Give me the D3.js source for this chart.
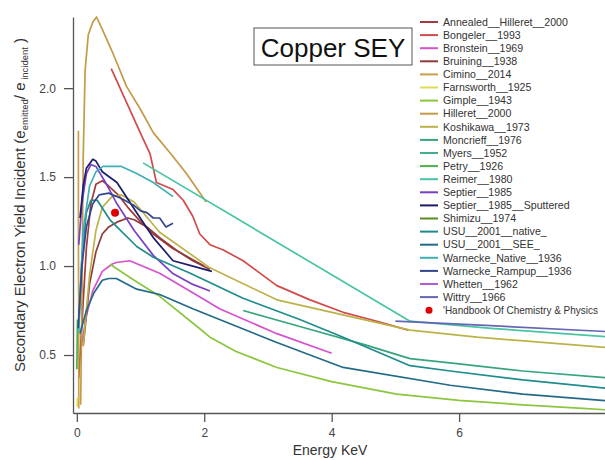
<!DOCTYPE html>
<html>
<head>
<meta charset="utf-8">
<script src="https://cdn.jsdelivr.net/npm/d3@7"></script>
<style>
  body { margin: 0; background: #fff; }
  svg { font-family: "Liberation Sans", Arial, sans-serif; }
  .axis path, .axis line { stroke: #555; stroke-width: 1.3; }
  .axis text { fill: #444; font-size: 12px; }
</style>
</head>
<body>
<div id="chart"></div>
<script>
// energy (keV), yield
const annealedHilleret = [[0.03,0.37],[0.06,0.55],[0.1,0.8],[0.15,1.1],[0.22,1.35],[0.3,1.46],[0.4,1.48],[0.5,1.45],[0.65,1.4],[0.8,1.33],[1.0,1.25],[1.2,1.18],[1.5,1.1],[1.8,1.04],[2.0,1.0]]
const bongeler = [[0.54,2.11],[0.78,1.92],[1.02,1.73],[1.15,1.63],[1.25,1.47],[1.51,1.43],[1.67,1.37],[1.82,1.28],[1.93,1.18],[2.09,1.12],[2.3,1.09],[2.61,1.03],[3.14,0.89],[3.66,0.81],[4.18,0.74],[4.71,0.69],[5.2,0.64]]
const bronstein = [[0.08,0.57],[0.15,0.72],[0.25,0.86],[0.4,0.97],[0.55,1.01],[0.62,1.02],[0.83,1.03],[1.3,0.96],[1.82,0.85],[2.24,0.76],[3.14,0.62],[4.0,0.51]]
const bruining = [[0.1,0.55],[0.2,0.9],[0.3,1.08],[0.4,1.18],[0.5,1.22],[0.65,1.25],[0.8,1.27],[0.9,1.26],[1.1,1.22],[1.3,1.16],[1.6,1.08],[1.82,1.03],[2.09,0.98]]
const cimino = [[0.025,1.76],[0.025,1.2],[0.03,0.6],[0.03,0.2]]
const farnsworth = [[0.005,0.21],[0.01,0.26]]
const gimple = [[0.52,1.01],[0.9,0.92],[1.3,0.83],[1.82,0.68],[2.09,0.6],[2.5,0.52],[3.14,0.43],[4.0,0.35],[5.02,0.28],[6.0,0.245],[7.0,0.22],[7.94,0.2],[8.4,0.19]]
const hilleret = [[0.06,0.22],[0.08,0.8],[0.1,1.6],[0.13,2.1],[0.18,2.3],[0.25,2.37],[0.31,2.4],[0.4,2.33],[0.55,2.21],[0.78,2.01],[1.0,1.88],[1.2,1.75],[1.5,1.62],[1.72,1.52],[2.03,1.36]]
const koshikawa = [[0.1,0.55],[0.2,0.95],[0.3,1.2],[0.4,1.33],[0.55,1.39],[0.7,1.4],[0.9,1.36],[1.3,1.19],[2.09,0.99],[3.14,0.81],[5.23,0.64],[6.28,0.6],[8.4,0.54]]
const moncrieff = [[2.61,0.75],[3.5,0.66],[4.5,0.56],[5.23,0.48],[6.0,0.45],[7.0,0.41],[8.4,0.37]]
const myers = []
const petry = [[0.0,0.42],[0.005,0.55],[0.01,0.7]]
const reimer = [[1.04,1.58],[5.23,0.69],[6.5,0.65],[8.4,0.6]]
const septier = [[0.03,1.12],[0.08,1.35],[0.15,1.52],[0.22,1.57],[0.3,1.56],[0.45,1.47],[0.63,1.35],[0.9,1.2],[1.2,1.06],[1.5,0.96],[1.8,0.9],[2.09,0.86]]
const septierSputtered = [[0.05,1.27],[0.1,1.45],[0.15,1.55],[0.25,1.6],[0.3,1.59],[0.4,1.53],[0.63,1.47],[0.94,1.3],[1.2,1.16],[1.51,1.03],[1.82,1.0],[2.12,0.97]]
const shimizu = []
const usuNative = [[0.03,0.65],[0.08,1.05],[0.15,1.3],[0.22,1.37],[0.32,1.37],[0.52,1.26],[0.94,1.11],[1.2,1.05],[1.78,0.96],[2.6,0.82],[3.5,0.7],[4.18,0.6],[5.23,0.44],[5.86,0.41],[7.0,0.36],[8.4,0.31]]
const usuSEE = [[0.05,0.62],[0.15,0.75],[0.27,0.85],[0.4,0.92],[0.5,0.93],[0.62,0.93],[0.94,0.87],[1.3,0.84],[1.82,0.76],[2.24,0.7],[3.14,0.57],[4.18,0.43],[5.86,0.33],[7.0,0.28],[8.4,0.24]]
const warneckeNative = [[0.03,0.63],[0.06,0.9],[0.1,1.2],[0.2,1.45],[0.3,1.53],[0.41,1.56],[0.7,1.56],[0.94,1.52],[1.2,1.47],[1.51,1.39]]
const warneckeRampup = [[0.02,0.65],[0.08,1.0],[0.15,1.22],[0.25,1.35],[0.35,1.4],[0.5,1.41],[0.7,1.38],[0.9,1.34],[1.0,1.31],[1.1,1.3],[1.2,1.27],[1.3,1.27],[1.4,1.22],[1.51,1.24]]
const whetten = []
const wittry = [[5.0,0.69],[6.5,0.665],[8.4,0.63]]
const handbook = [[0.6,1.3]]

const seriesNames = ['Annealed__Hilleret__2000','Bongeler__1993','Bronstein__1969','Bruining__1938','Cimino__2014','Farnsworth__1925','Gimple__1943','Hilleret__2000','Koshikawa__1973','Moncrieff__1976','Myers__1952','Petry__1926','Reimer__1980','Septier__1985','Septier__1985__Sputtered','Shimizu__1974','USU__2001__native_','USU__2001__SEE_','Warnecke_Native__1936','Warnecke_Rampup__1936','Whetten__1962','Wittry__1966']
const seriesData = [annealedHilleret, bongeler, bronstein, bruining, cimino, farnsworth, gimple, hilleret, koshikawa, moncrieff, myers, petry, reimer, septier, septierSputtered, shimizu, usuNative, usuSEE, warneckeNative, warneckeRampup, whetten, wittry]
const seriesColors = ['#a23b3b','#d24a4a','#d452cf','#8e3b3b','#c9a04a','#dcdc55','#8cc63f','#c49a49','#bcb24a','#36a57e','#40b08e','#4cb04c','#48c4a4','#7840c4','#1c1c6b','#5b8c23','#1f8c8c','#236a88','#3fb0b5','#33458f','#b35bd6','#6666b6']
const handbookName = "'Handbook Of Chemistry & Physics"

const W = 605, H = 460
const xScale = d3.scaleLinear().domain([-0.06, 8.29]).range([73, 605])
const yScale = d3.scaleLinear().domain([0.174, 2.4]).range([413, 17])

const svg = d3.select('#chart').append('svg')
	.attr('width', W)
	.attr('height', H)

svg.append('defs').append('clipPath').attr('id', 'plot')
	.append('rect').attr('x', 73).attr('y', 10).attr('width', W - 73).attr('height', 404)

svg.append('g')
	.attr('class', 'axis')
	.attr('transform', 'translate(0,413)')
	.call(d3.axisBottom(xScale).tickValues([0, 2, 4, 6]).tickFormat(d3.format('d')).tickSize(9).tickSizeOuter(0).tickPadding(6))

svg.append('g')
	.attr('class', 'axis')
	.attr('transform', 'translate(73,0)')
	.call(d3.axisLeft(yScale).tickValues([0.5, 1.0, 1.5, 2.0]).tickFormat(d3.format('.1f')).tickSize(9).tickSizeOuter(0).tickPadding(8))

const line = d3.line()
	.x(d => xScale(d[0]))
	.y(d => yScale(d[1]))

const plot = svg.append('g').attr('clip-path', 'url(#plot)')

plot.selectAll('path.series').data(seriesData)
	.enter()
	.append('path')
		.attr('class', 'series')
		.attr('d', d => d.length ? line(d) : null)
		.attr('fill', 'none')
		.attr('stroke', (d, i) => seriesColors[i])
		.attr('stroke-width', 1.7)
		.attr('stroke-linejoin', 'round')

plot.selectAll('circle.hb').data(handbook)
	.enter()
	.append('circle')
		.attr('class', 'hb')
		.attr('cx', d => xScale(d[0]))
		.attr('cy', d => yScale(d[1]))
		.attr('r', 4)
		.attr('fill', '#e00000')

// title box
svg.append('rect')
	.attr('x', 254).attr('y', 28).attr('width', 158).attr('height', 37)
	.attr('fill', '#fff').attr('stroke', '#555').attr('stroke-width', 1)
svg.append('text')
	.attr('x', 333).attr('y', 57)
	.attr('text-anchor', 'middle')
	.style('font-size', '26px')
	.attr('fill', '#111')
	.text('Copper SEY')

// legend
const legend = svg.append('g').attr('transform', 'translate(420,22)')
const rowH = 13.1
const items = legend.selectAll('g.item').data(seriesNames)
	.enter()
	.append('g')
		.attr('transform', (d, i) => `translate(0, ${i * rowH})`)
items.append('line')
	.attr('x1', 0).attr('x2', 18)
	.attr('stroke', (d, i) => seriesColors[i])
	.attr('stroke-width', 2)
items.append('text')
	.attr('x', 23).attr('dy', '0.35em')
	.style('font-size', '10.6px')
	.attr('fill', '#333')
	.text(d => d)

const hbRow = legend.append('g').attr('transform', `translate(0, ${seriesNames.length * rowH})`)
hbRow.append('circle').attr('cx', 9).attr('r', 3.5).attr('fill', '#e00000')
hbRow.append('text')
	.attr('x', 23).attr('dy', '0.35em')
	.style('font-size', '10.4px')
	.attr('textLength', 155)
	.attr('lengthAdjust', 'spacingAndGlyphs')
	.attr('fill', '#333')
	.text(handbookName)

// axis titles
svg.append('text')
	.attr('x', 330).attr('y', 455)
	.attr('text-anchor', 'middle')
	.style('font-size', '14px')
	.attr('fill', '#333')
	.text('Energy KeV')

const yTitle = svg.append('text')
	.attr('transform', 'translate(25,205) rotate(-90)')
	.attr('text-anchor', 'middle')
	.style('font-size', '15px')
	.attr('fill', '#333')
yTitle.append('tspan').text('Secondary Electron Yield Incident (e')
yTitle.append('tspan').attr('dy', 3).style('font-size', '9.5px').text('emitted')
yTitle.append('tspan').attr('dy', -3).text('/ e')
yTitle.append('tspan').attr('dy', 3).style('font-size', '9.5px').text(' incident')
yTitle.append('tspan').attr('dy', -3).text(' )')
</script>
</body>
</html>
